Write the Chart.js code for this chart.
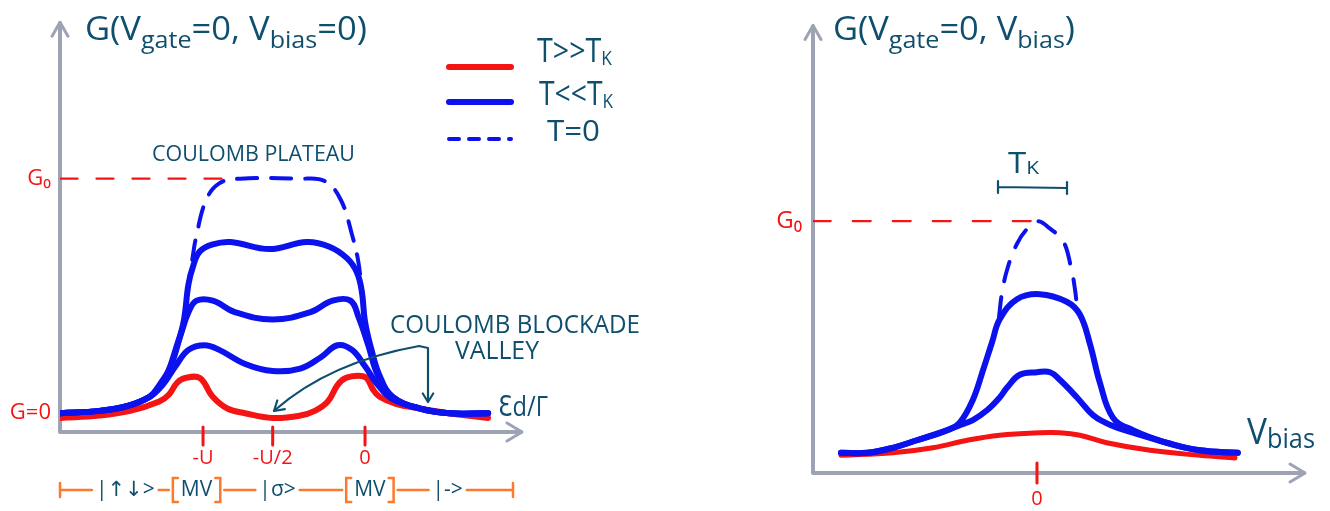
<!DOCTYPE html>
<html>
<head>
<meta charset="utf-8">
<script src="https://cdn.jsdelivr.net/npm/chart.js@4/dist/chart.umd.min.js"></script>
<style>
  html, body { margin: 0; padding: 0; background: #ffffff; }
  body { width: 1330px; height: 511px; overflow: hidden; position: relative; }
  canvas { position: absolute; top: 0; }
  #leftChart { left: 0; }
  #rightChart { left: 665px; }
</style>
</head>
<body>
<canvas id="leftChart" width="665" height="511"></canvas>
<canvas id="rightChart" width="665" height="511"></canvas>
<script>
// ---------------- DATA ----------------
// Left panel: G(Vgate=0, Vbias=0) versus level energy Ed (units of U), G in units of G0
const gateTickValues = [-1, -0.57, 0];
const gateTickLabels = ['-U', '-U/2', '0'];
const gateLevelValues = [0, 1];
const gateLevelLabels = ['G=0', 'G₀'];

const edHotX  = [-1.88,-1.64,-1.45,-1.27,-1.21,-1.16,-1.11,-1.02,-0.94,-0.85,-0.74,-0.57,-0.40,-0.31,-0.23,-0.17,-0.12,-0.04,0.01,0.05,0.09,0.19,0.34,0.52,0.76];
const edHotG  = [-0.02,-0.01,0.01,0.05,0.08,0.13,0.15,0.15,0.07,0.02,0.00,-0.02,-0.01,0.01,0.05,0.12,0.15,0.16,0.15,0.10,0.07,0.04,0.02,0.00,-0.02];

const edColdAX = [-1.88,-1.64,-1.47,-1.33,-1.25,-1.17,-1.09,-0.99,-0.90,-0.74,-0.57,-0.40,-0.27,-0.17,-0.08,0.00,0.08,0.17,0.34,0.52,0.76];
const edColdAG = [0.00,0.01,0.03,0.07,0.12,0.20,0.27,0.29,0.27,0.21,0.18,0.19,0.24,0.29,0.27,0.20,0.12,0.06,0.02,0.00,0.00];

const edColdBX = [-1.88,-1.64,-1.47,-1.33,-1.27,-1.20,-1.14,-1.09,-1.04,-0.94,-0.80,-0.57,-0.34,-0.20,-0.09,-0.04,0.02,0.08,0.17,0.34,0.52,0.76];
const edColdBG = [0.00,0.01,0.03,0.07,0.12,0.20,0.33,0.43,0.48,0.48,0.43,0.40,0.43,0.48,0.48,0.41,0.29,0.16,0.07,0.02,0.00,0.00];

const edColdCX = [-1.88,-1.64,-1.47,-1.33,-1.28,-1.22,-1.17,-1.12,-1.09,-1.06,-1.02,-0.94,-0.83,-0.59,-0.36,-0.22,-0.11,-0.05,-0.02,0.00,0.04,0.09,0.17,0.34,0.52,0.76];
const edColdCG = [0.00,0.01,0.03,0.07,0.10,0.17,0.27,0.39,0.55,0.63,0.69,0.72,0.73,0.70,0.73,0.71,0.66,0.60,0.52,0.39,0.27,0.16,0.07,0.02,0.00,0.00];

const edZeroX = [-1.10,-1.07,-1.04,-0.98,-0.90,-0.77,-0.40,-0.25,-0.15,-0.08,-0.04,-0.02];
const edZeroG = [0.51,0.64,0.76,0.91,0.98,1.00,1.00,0.99,0.91,0.76,0.64,0.51];

const edG0X = [-1.88, -0.60];
const edG0G = [1, 1];

// charge states along the Ed axis
const stateLabels  = ['|↑↓>', 'MV', '|σ>', 'MV', '|->'];
const stateCenters = [-1.48, -1.04, -0.54, 0.03, 0.51];
const stateBracket = [false, true, false, true, false];

// Right panel: G(Vgate=0, Vbias) versus Vbias (units of TK), G in units of G0
const biasTickValues = [0];
const biasTickLabels = ['0'];
const biasLevelValues = [1];
const biasLevelLabels = ['G₀'];

const vbHotX = [-2.84,-2.09,-1.51,-1.01,-0.54,0.04,0.33,0.62,1.01,1.64,2.36,2.87];
const vbHotG = [0.07,0.08,0.10,0.13,0.15,0.16,0.16,0.15,0.12,0.09,0.07,0.06];

const vbColdAX = [-2.84,-2.46,-2.09,-1.74,-1.30,-1.12,-0.93,-0.72,-0.54,-0.43,-0.25,0.00,0.19,0.33,0.58,0.81,0.99,1.16,1.39,1.88,2.36,2.91];
const vbColdAG = [0.08,0.08,0.10,0.13,0.17,0.19,0.21,0.25,0.30,0.34,0.39,0.40,0.40,0.37,0.30,0.23,0.20,0.18,0.16,0.12,0.09,0.08];

const vbColdBX = [-2.84,-2.46,-2.09,-1.74,-1.30,-1.12,-0.93,-0.78,-0.65,-0.54,-0.29,0.04,0.43,0.62,0.77,0.91,1.10,1.39,1.88,2.36,2.91];
const vbColdBG = [0.08,0.08,0.10,0.13,0.17,0.20,0.29,0.41,0.52,0.61,0.69,0.71,0.68,0.63,0.51,0.36,0.22,0.17,0.12,0.09,0.08];

const vbZeroX = [-0.55,-0.51,-0.43,-0.29,-0.14,0.01,0.19,0.38,0.49,0.55,0.59];
const vbZeroG = [0.62,0.71,0.81,0.91,0.97,1.00,0.97,0.92,0.82,0.73,0.63];

const vbG0X = [-3.25, 0.04];
const vbG0G = [1, 1];

const kondoWidth = 1;      // TK, in units of TK
const kondoBarCenter = -0.065;

const legendTexts = [['T>>T', 'K'], ['T<<T', 'K'], ['T=0', '']];

// ---------------- STYLE ----------------
const TEAL = '#0f4f6e', RED = '#f41414', BLUE = '#0c12ee', ORANGE = '#fb7a2c', AXIS = '#9da2b4';
const FONT = '"Open Sans", "DejaVu Sans", sans-serif';
Chart.defaults.font.family = FONT;

function pts(xs, ys) { return xs.map((x, i) => ({ x: x, y: ys[i] })); }

function richText(ctx, x, y, parts, width, color) {
  ctx.save();
  ctx.fillStyle = color;
  ctx.textBaseline = 'alphabetic';
  ctx.textAlign = 'left';
  let total = 0;
  for (const p of parts) { ctx.font = p[1] + 'px ' + FONT; total += ctx.measureText(p[0]).width; }
  const k = width ? width / total : 1;
  ctx.translate(x, y);
  ctx.scale(k, 1);
  let cx = 0;
  for (const p of parts) {
    ctx.font = p[1] + 'px ' + FONT;
    ctx.fillText(p[0], cx, p[2] || 0);
    cx += ctx.measureText(p[0]).width;
  }
  ctx.restore();
}

function axesPlugin(tickUp, tickDown) {
  return {
    id: 'axesArrows',
    beforeDatasetsDraw(chart) {
      const ctx = chart.ctx;
      const { left, top, right, bottom } = chart.chartArea;
      ctx.save();
      ctx.strokeStyle = AXIS; ctx.lineWidth = 4; ctx.lineCap = 'round'; ctx.lineJoin = 'round';
      ctx.beginPath();
      ctx.moveTo(left, bottom); ctx.lineTo(left, top + 1);
      ctx.moveTo(left, bottom); ctx.lineTo(right - 1, bottom);
      ctx.stroke();
      ctx.lineWidth = 3;
      ctx.beginPath();
      ctx.moveTo(left - 8, top + 14); ctx.lineTo(left, top); ctx.lineTo(left + 8, top + 14);
      ctx.moveTo(right - 15, bottom - 9); ctx.lineTo(right, bottom); ctx.lineTo(right - 15, bottom + 9);
      ctx.stroke();
      const xs = chart.scales.x;
      ctx.strokeStyle = RED; ctx.lineWidth = 3;
      xs.ticks.forEach(t => {
        const px = xs.getPixelForValue(t.value);
        ctx.beginPath(); ctx.moveTo(px, bottom - tickUp); ctx.lineTo(px, bottom + tickDown); ctx.stroke();
      });
      ctx.restore();
    }
  };
}

function fixedTicks(values) {
  return function (scale) { scale.ticks = values.map(v => ({ value: v })); };
}

function arrowHead(ctx, x, y, ang, len) {
  ctx.beginPath();
  ctx.moveTo(x + len * Math.cos(ang + 0.55), y + len * Math.sin(ang + 0.55));
  ctx.lineTo(x, y);
  ctx.lineTo(x + len * Math.cos(ang - 0.55), y + len * Math.sin(ang - 0.55));
  ctx.stroke();
}

// ---------------- LEFT CHART ----------------
const leftDecor = {
  id: 'leftDecor',
  afterDraw(chart) {
    const ctx = chart.ctx;
    const xs = chart.scales.x;
    // title
    richText(ctx, 85, 40, [['G(V', 33], ['gate', 24, 8], ['=0, V', 33], ['bias', 24, 8], ['=0)', 33]], 282, TEAL);
    // legend (styles taken from datasets)
    const ds = chart.data.datasets;
    const legendSets = [ds[4], ds[2], ds[3]];
    const legendY = [67, 102, 139];
    const legendTextY = [62, 105, 141];
    const legendTextX = [537, 539, 547];
    const legendTextW = [75, 74, 53];
    legendSets.forEach((d, i) => {
      ctx.save();
      ctx.strokeStyle = d.borderColor; ctx.lineWidth = d.borderWidth; ctx.lineCap = 'round';
      ctx.setLineDash(d.borderDash && d.borderDash.length ? [10, 10] : []);
      ctx.beginPath(); ctx.moveTo(449, legendY[i]); ctx.lineTo(511, legendY[i]); ctx.stroke();
      ctx.restore();
      const t = legendTexts[i];
      const parts = [[t[0], i === 2 ? 29 : 33]];
      if (t[1]) parts.push([t[1], 20, 3]);
      richText(ctx, legendTextX[i], legendTextY[i], parts, legendTextW[i], TEAL);
    });
    // annotations
    richText(ctx, 152, 161, [['COULOMB PLATEAU', 22]], 203, TEAL);
    richText(ctx, 390, 333, [['COULOMB BLOCKADE', 25]], 250, TEAL);
    richText(ctx, 455, 359, [['VALLEY', 25]], 84, TEAL);
    richText(ctx, 498, 416, [['Ɛd/Γ', 28]], 50, TEAL);
    // arrows to the valleys
    ctx.save();
    ctx.strokeStyle = TEAL; ctx.lineWidth = 2.2; ctx.lineCap = 'round'; ctx.lineJoin = 'round';
    ctx.beginPath();
    ctx.moveTo(428, 348); ctx.lineTo(428, 401);
    ctx.moveTo(428, 348); ctx.lineTo(419, 346);
    ctx.quadraticCurveTo(330, 362, 275, 410);
    ctx.stroke();
    arrowHead(ctx, 428, 402, -Math.PI / 2, 10);
    arrowHead(ctx, 274, 411, Math.atan2(362 - 410, 330 - 275), 11);
    ctx.restore();
    // charge-state row
    const rowY = 490;
    ctx.save();
    ctx.font = '21px ' + FONT;
    ctx.textBaseline = 'middle'; ctx.textAlign = 'center';
    const boxes = stateLabels.map((s, i) => {
      const cx = xs.getPixelForValue(stateCenters[i]);
      const w = ctx.measureText(s).width + (stateBracket[i] ? 16 : 0);
      return [cx - w / 2 - 4, cx + w / 2 + 4, cx, w];
    });
    ctx.strokeStyle = ORANGE; ctx.lineWidth = 2.5; ctx.lineCap = 'round';
    const x0 = chart.chartArea.left, x1 = 513;
    let prev = x0;
    ctx.beginPath();
    boxes.forEach(b => { ctx.moveTo(prev, rowY); ctx.lineTo(b[0], rowY); prev = b[1]; });
    ctx.moveTo(prev, rowY); ctx.lineTo(x1, rowY);
    ctx.moveTo(x0, rowY - 7); ctx.lineTo(x0, rowY + 7);
    ctx.moveTo(x1, rowY - 7); ctx.lineTo(x1, rowY + 7);
    ctx.stroke();
    boxes.forEach((b, i) => {
      if (stateBracket[i]) {
        const l = b[2] - b[3] / 2, r = b[2] + b[3] / 2;
        ctx.beginPath();
        ctx.moveTo(l + 5, rowY - 12); ctx.lineTo(l, rowY - 12); ctx.lineTo(l, rowY + 12); ctx.lineTo(l + 5, rowY + 12);
        ctx.moveTo(r - 5, rowY - 12); ctx.lineTo(r, rowY - 12); ctx.lineTo(r, rowY + 12); ctx.lineTo(r - 5, rowY + 12);
        ctx.stroke();
      }
      ctx.fillStyle = TEAL;
      ctx.fillText(stateLabels[i], b[2], rowY);
    });
    ctx.restore();
  }
};

const blueLine = { borderColor: BLUE, borderWidth: 6, pointRadius: 0, fill: false };
new Chart(document.getElementById('leftChart'), {
  type: 'line',
  data: {
    datasets: [
      Object.assign({ label: 'T<<TK (1)', data: pts(edColdCX, edColdCG) }, blueLine),
      Object.assign({ label: 'T<<TK (2)', data: pts(edColdBX, edColdBG) }, blueLine),
      Object.assign({ label: 'T<<TK', data: pts(edColdAX, edColdAG) }, blueLine),
      { label: 'T=0', data: pts(edZeroX, edZeroG), borderColor: BLUE, borderWidth: 4, borderDash: [20, 14], pointRadius: 0, fill: false },
      { label: 'T>>TK', data: pts(edHotX, edHotG), borderColor: RED, borderWidth: 6, pointRadius: 0, fill: false },
      { label: 'G0', data: pts(edG0X, edG0G), borderColor: RED, borderWidth: 2.2, borderDash: [17, 19], pointRadius: 0, fill: false, tension: 0 }
    ]
  },
  options: {
    responsive: false, animation: false, devicePixelRatio: 1,
    layout: { padding: { top: 18, right: 143, left: 0, bottom: 0 } },
    plugins: { legend: { display: false }, tooltip: { enabled: false } },
    elements: { line: { tension: 0.4, borderCapStyle: 'round', borderJoinStyle: 'round' }, point: { radius: 0 } },
    scales: {
      x: {
        type: 'linear', min: -1.883, max: 0.969,
        afterFit(s) { s.height = 79; },
        afterBuildTicks: fixedTicks(gateTickValues),
        grid: { display: false, drawTicks: false }, border: { display: false },
        ticks: { color: RED, font: { size: 20 }, padding: 14, autoSkip: false, maxRotation: 0,
                 callback: (v, i) => gateTickLabels[i] }
      },
      y: {
        type: 'linear', min: -0.08, max: 1.667,
        afterFit(s) { s.width = 60; },
        afterBuildTicks: fixedTicks(gateLevelValues),
        grid: { display: false, drawTicks: false }, border: { display: false },
        ticks: { color: RED, font: { size: 22 }, padding: 9, autoSkip: false,
                 callback: (v, i) => gateLevelLabels[i] }
      }
    }
  },
  plugins: [axesPlugin(5, 13), leftDecor]
});

// ---------------- RIGHT CHART ----------------
const rightDecor = {
  id: 'rightDecor',
  afterDraw(chart) {
    const ctx = chart.ctx;
    const xs = chart.scales.x;
    richText(ctx, 168, 40, [['G(V', 33], ['gate', 24, 8], ['=0, V', 33], ['bias', 24, 8], [')', 33]], 242, TEAL);
    richText(ctx, 582, 444, [['V', 37], ['bias', 28, 4]], 68, TEAL);
    // TK width bar
    const xa = xs.getPixelForValue(kondoBarCenter - kondoWidth / 2);
    const xb = xs.getPixelForValue(kondoBarCenter + kondoWidth / 2);
    ctx.save();
    ctx.strokeStyle = TEAL; ctx.lineWidth = 2.2; ctx.lineCap = 'round';
    ctx.beginPath();
    ctx.moveTo(xa, 187); ctx.lineTo(xb, 188);
    ctx.moveTo(xa, 181); ctx.lineTo(xa, 193);
    ctx.moveTo(xb, 182); ctx.lineTo(xb, 194);
    ctx.stroke();
    ctx.restore();
    richText(ctx, 343, 173, [['T', 30], ['K', 19, 1]], 31, TEAL);
  }
};

new Chart(document.getElementById('rightChart'), {
  type: 'line',
  data: {
    datasets: [
      Object.assign({ label: 'T<<TK (1)', data: pts(vbColdBX, vbColdBG) }, blueLine),
      Object.assign({ label: 'T<<TK', data: pts(vbColdAX, vbColdAG) }, blueLine),
      { label: 'T=0', data: pts(vbZeroX, vbZeroG), borderColor: BLUE, borderWidth: 4, borderDash: [20, 16], pointRadius: 0, fill: false },
      { label: 'T>>TK', data: pts(vbHotX, vbHotG), borderColor: RED, borderWidth: 5, pointRadius: 0, fill: false },
      { label: 'G0', data: pts(vbG0X, vbG0G), borderColor: RED, borderWidth: 2.2, borderDash: [18, 22], pointRadius: 0, fill: false, tension: 0 }
    ]
  },
  options: {
    responsive: false, animation: false, devicePixelRatio: 1,
    layout: { padding: { top: 18, right: 25, left: 0, bottom: 0 } },
    plugins: { legend: { display: false }, tooltip: { enabled: false } },
    elements: { line: { tension: 0.4, borderCapStyle: 'round', borderJoinStyle: 'round' }, point: { radius: 0 } },
    scales: {
      x: {
        type: 'linear', min: -3.246, max: 3.884,
        afterFit(s) { s.height = 38; },
        afterBuildTicks: fixedTicks(biasTickValues),
        grid: { display: false, drawTicks: false }, border: { display: false },
        ticks: { color: RED, font: { size: 20 }, padding: 14, autoSkip: false, maxRotation: 0,
                 callback: (v, i) => biasTickLabels[i] }
      },
      y: {
        type: 'linear', min: 0, max: 1.777,
        afterFit(s) { s.width = 148; },
        afterBuildTicks: fixedTicks(biasLevelValues),
        grid: { display: false, drawTicks: false }, border: { display: false },
        ticks: { color: RED, font: { size: 24 }, padding: 11, autoSkip: false,
                 callback: (v, i) => biasLevelLabels[i] }
      }
    }
  },
  plugins: [axesPlugin(10, 10), rightDecor]
});
</script>
</body>
</html>
